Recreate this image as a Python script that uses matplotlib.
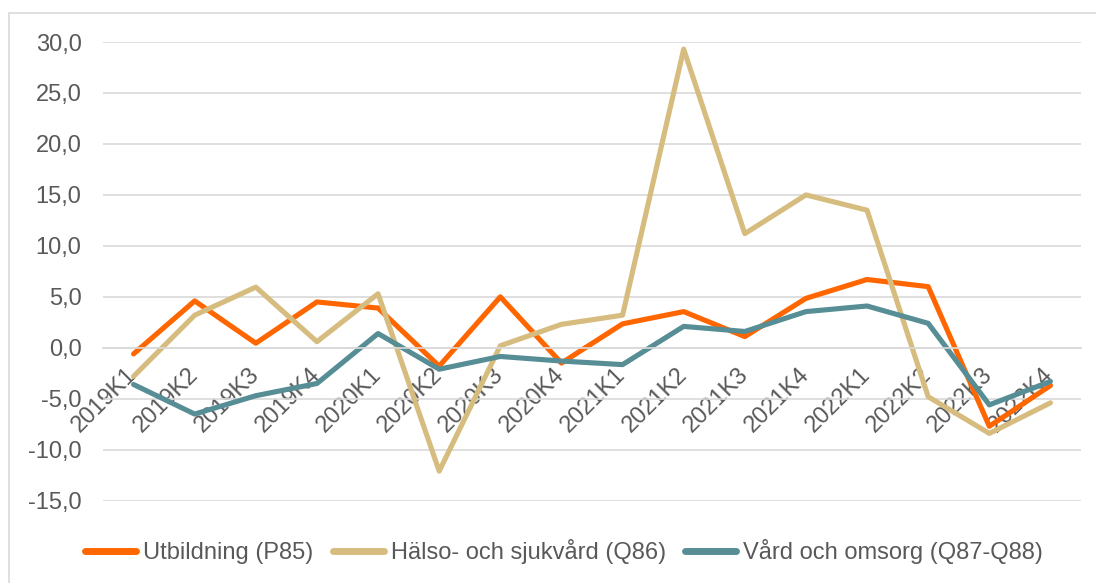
import matplotlib
matplotlib.use("Agg")
import matplotlib.pyplot as plt
from matplotlib.ticker import FuncFormatter, MultipleLocator
from matplotlib.patches import Rectangle

# Kvartal
quarters = ["2019K1", "2019K2", "2019K3", "2019K4",
            "2020K1", "2020K2", "2020K3", "2020K4",
            "2021K1", "2021K2", "2021K3", "2021K4",
            "2022K1", "2022K2", "2022K3", "2022K4"]

# Serier
utbildning = [-0.6, 4.6, 0.45, 4.5, 3.9, -1.8, 5.0, -1.5,
              2.35, 3.55, 1.1, 4.85, 6.7, 6.0, -7.7, -3.7]
halso_sjukvard = [-2.8, 3.2, 5.95, 0.6, 5.3, -12.1, 0.2, 2.3,
                  3.2, 29.3, 11.2, 15.0, 13.5, -4.8, -8.4, -5.4]
vard_omsorg = [-3.6, -6.5, -4.7, -3.5, 1.4, -2.1, -0.85, -1.3,
               -1.65, 2.1, 1.6, 3.55, 4.1, 2.4, -5.6, -3.3]

series_labels = ["Utbildning (P85)", "Hälso- och sjukvård (Q86)", "Vård och omsorg (Q87-Q88)"]
colors = ["#FF6600", "#D6BD7F", "#578E95"]

text_color = "#595959"
grid_color = "#D9D9D9"

plt.rcParams["font.family"] = ["Liberation Sans", "DejaVu Sans"]
plt.rcParams["font.size"] = 17

fig = plt.figure(figsize=(10.96, 5.83), dpi=100)

# yttre ram runt diagrammet
fig.patches.append(Rectangle((9 / 1096, -0.1), 1.2, 1 - 13 / 583 + 0.1,
                             transform=fig.transFigure, fill=False,
                             edgecolor=grid_color, linewidth=1.2))

ax = fig.add_axes([103 / 1096, 1 - 500.7 / 583, 978 / 1096, (500.7 - 42) / 583])

x = list(range(len(quarters)))
for vals, lab, col in zip([utbildning, halso_sjukvard, vard_omsorg], series_labels, colors):
    ax.plot(x, vals, color=col, lw=3.7, label=lab, solid_capstyle="round",
            solid_joinstyle="round")

ax.set_xlim(-0.5, len(quarters) - 0.5)
ax.set_ylim(-15, 30)
ax.yaxis.set_major_locator(MultipleLocator(5))
ax.yaxis.set_major_formatter(FuncFormatter(lambda v, p: f"{v:.1f}".replace(".", ",")))
ax.grid(axis="y", color=grid_color, lw=1.2)
ax.set_axisbelow(True)

for s in ["top", "right", "left"]:
    ax.spines[s].set_visible(False)
ax.spines["bottom"].set_position(("data", 0))
ax.spines["bottom"].set_color(grid_color)
ax.spines["bottom"].set_linewidth(1.2)

ax.set_xticks(x)
ax.set_xticklabels(quarters, rotation=45, ha="right", va="center",
                   rotation_mode="anchor", color=text_color)
ax.tick_params(axis="x", length=0, pad=17)
ax.tick_params(axis="y", length=0, pad=15.5, colors=text_color)

leg = fig.legend(loc="center", bbox_to_anchor=(564 / 1096, 1 - 551.7 / 583),
                 ncol=3, frameon=False, handlelength=2.16, handletextpad=0.3,
                 columnspacing=0.8)
for t in leg.get_texts():
    t.set_color(text_color)
for h in leg.get_lines():
    h.set_linewidth(5)

fig.savefig("out.png", dpi=100)
